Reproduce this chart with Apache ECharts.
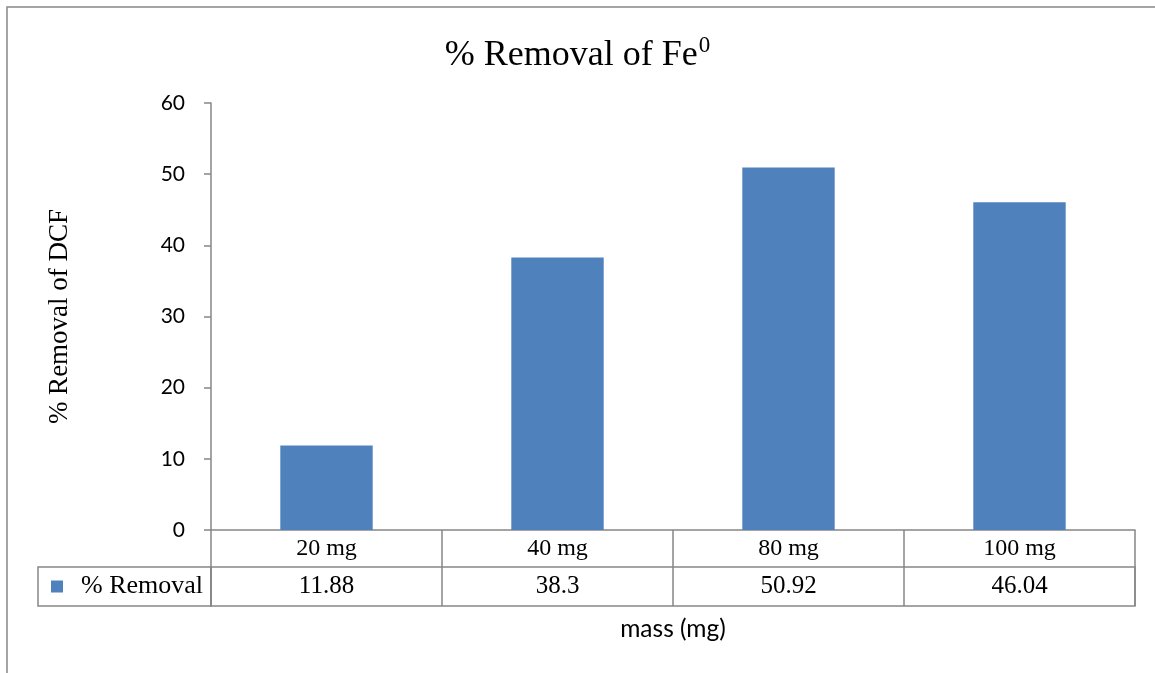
<!DOCTYPE html>
<html><head><meta charset="utf-8">
<script src="https://cdn.jsdelivr.net/npm/echarts@6/dist/echarts.min.js"></script>
<style>html,body{margin:0;padding:0;background:#fff}#c{width:1155px;height:673px}</style>
</head><body><div id="c"></div>
<script>
var categories = ['20 mg', '40 mg', '80 mg', '100 mg'];
var removal = [11.88, 38.3, 50.92, 46.04];
var removalLabels = ['11.88', '38.3', '50.92', '46.04'];
var seriesName = '% Removal';
var yTicks = {min: 0, max: 60, interval: 10};

var serif = '"Liberation Serif", "Times New Roman", serif';
var sans = 'Lato, "Open Sans", sans-serif';
var gray = '#868686';
var blue = '#4F81BD';

var chart = echarts.init(document.getElementById('c'));
chart.setOption({
  animation: false,
  backgroundColor: '#fff',
  title: {
    text: '{a|% Removal of Fe}{s|0}',
    left: 'center', top: 29,
    textStyle: {
      rich: {
        a: {fontFamily: serif, fontSize: 36, fontWeight: 'normal', color: '#000', lineHeight: 44},
        s: {fontFamily: serif, fontSize: 23, fontWeight: 'normal', color: '#000', verticalAlign: 'top', lineHeight: 44, padding: [0, 0, 15, 1]}
      }
    }
  },
  graphic: [{
    type: 'rect', silent: true,
    shape: {x: 7, y: 7, width: 1300, height: 800},
    style: {fill: 'none', stroke: '#888', lineWidth: 1.5}
  }],
  grid: [
    {left: 211, right: 20, top: 103, bottom: 143},
    {left: 211, right: 20, top: 567, height: 39, show: true, borderColor: gray, borderWidth: 1.5}
  ],
  xAxis: [{
    type: 'category', gridIndex: 0, data: categories,
    axisLine: {lineStyle: {color: gray, width: 1.5}},
    axisTick: {show: true, length: 37, interval: 0, lineStyle: {color: gray, width: 1.5}},
    axisLabel: {fontFamily: serif, fontSize: 24, color: '#000', margin: 7, interval: 0}
  }, {
    type: 'category', gridIndex: 1, data: categories, position: 'bottom',
    axisLine: {show: false}, axisTick: {show: false},
    splitLine: {show: true, lineStyle: {color: gray, width: 1.5}},
    axisLabel: {inside: true, margin: 7, interval: 0, fontFamily: serif, fontSize: 25, color: '#000',
      formatter: function (v, i) { return removalLabels[i]; }},
    name: 'mass (mg)', nameLocation: 'middle', nameGap: 11,
    nameTextStyle: {fontFamily: sans, fontSize: 24.5, color: '#000', verticalAlign: 'top'}
  }],
  yAxis: [{
    type: 'value', gridIndex: 0, min: yTicks.min, max: yTicks.max, interval: yTicks.interval,
    axisLine: {show: true, lineStyle: {color: gray, width: 1.5}},
    axisTick: {show: true, length: 7, lineStyle: {color: gray, width: 1.5}},
    splitLine: {show: false},
    axisLabel: {fontFamily: sans, fontSize: 21, color: '#000', margin: 26},
    name: '% Removal of DCF', nameLocation: 'middle', nameGap: 138, nameRotate: 90,
    nameTextStyle: {fontFamily: serif, fontSize: 27, color: '#000'}
  }, {
    type: 'category', gridIndex: 1, data: [seriesName],
    axisLine: {show: false}, axisTick: {show: false},
    axisLabel: {
      margin: 0,
      formatter: function (v) { return '{sq|}{sp|}{t|' + v + '}'; },
      width: 155, height: 39, lineHeight: 39, padding: [0, 8, 0, 10],
      borderColor: gray, borderWidth: 1.5, align: 'right', verticalAlign: 'middle',
      rich: {
        sq: {backgroundColor: blue, width: 12, height: 12, verticalAlign: 'middle'},
        sp: {width: 18, height: 12},
        t: {fontFamily: serif, fontSize: 26, color: '#000', lineHeight: 39, verticalAlign: 'middle'}
      }
    }
  }],
  series: [{
    name: seriesName, type: 'bar', xAxisIndex: 0, yAxisIndex: 0,
    data: removal, barWidth: '40%', itemStyle: {color: blue}
  }]
});
</script></body></html>
